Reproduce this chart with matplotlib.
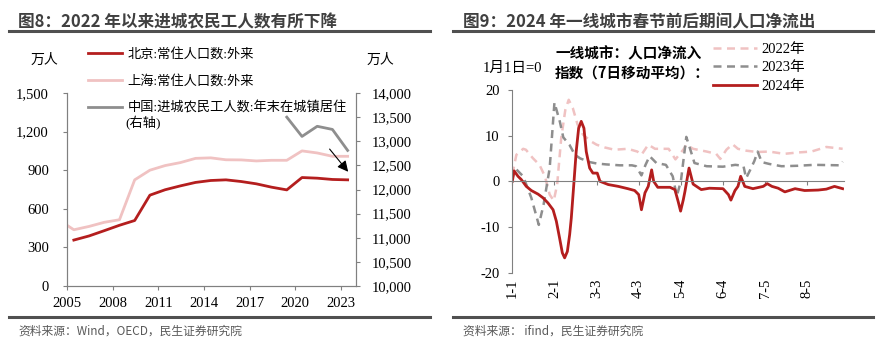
import numpy as np
import matplotlib
matplotlib.use('Agg')
import matplotlib.pyplot as plt
from matplotlib.lines import Line2D
from matplotlib.ticker import FuncFormatter

SERIF = ['Liberation Serif', 'Noto Sans CJK SC']
SANS = ['Noto Sans CJK SC', 'DejaVu Sans']
plt.rcParams['font.family'] = SERIF
plt.rcParams['axes.unicode_minus'] = False

# ---------------- 图8 data (万人)
sh_years = list(range(2004, 2024))
shanghai = [515, 437, 463, 495, 515, 825, 900, 936, 959, 992, 996, 981, 980, 972, 977, 977,
            1050, 1034, 1008, 1008]
bj_years = list(range(2005, 2024))
beijing = [357, 389, 430, 472, 509, 706, 748, 778, 805, 820, 825, 812, 794, 768, 747,
           843, 838, 828, 825]
cn_years = [2019, 2020, 2021, 2022, 2023]
china = [13500, 13100, 13310, 13245, 12810]
year_ticks = [2005, 2008, 2011, 2014, 2017, 2020, 2023]

# ---------------- 图9 data (days since 1-1, index value)
d2022 = [0, 3, 8, 10, 15, 20, 24, 27.5, 30.5, 33, 36, 39, 41.5, 44.5, 48, 52, 58, 62, 68, 75,
         85, 92, 95, 100, 105, 115, 120, 126, 128, 133, 143, 150, 153, 157.5, 162, 166, 172,
         180, 189, 200, 210, 220, 231, 243]
v2022 = [1.5, 5.8, 7.1, 6.9, 5.1, 3.6, 1.1, -2.9, -4.2, -0.7, 9.5, 15.6, 17.8, 16.0, 12.4, 10.2,
         8.7, 8.0, 7.4, 6.9, 7.1, 6.5, 5.8, 8.0, 7.1, 7.1, 4.8, 7.0, 8.0, 7.1, 6.5, 6.0, 4.9,
         6.9, 8.1, 7.1, 6.7, 6.4, 6.5, 6.0, 6.3, 6.5, 7.5, 7.1]
d2023 = [0, 2, 8, 14, 19.5, 23, 27.5, 31, 35, 37.5, 42, 46, 50, 57, 62, 69, 79, 88, 91, 95, 98,
         101, 106, 113, 118, 121, 124, 128, 131, 134, 143, 155, 164, 170, 172, 175, 178,
         180.5, 183.5, 189, 198, 210, 222, 241, 243]
v2023 = [0.5, 2.9, 1.1, -3.6, -9.5, -5.1, 2.9, 17.2, 13.0, 9.6, 8.0, 5.8, 5.0, 4.2, 3.9, 3.7,
         3.5, 3.5, 3.3, 1.3, 3.6, 5.5, 4.0, 3.6, 1.1, -3.2, 0.0, 9.7, 6.9, 4.0, 3.3, 3.2, 3.6,
         3.4, 0.7, 2.5, 4.4, 6.5, 4.2, 3.8, 3.3, 3.4, 3.6, 3.5, 4.3]
d2024 = [0, 1.3, 4.2, 6.6, 10.3, 14, 19, 22.6, 26.2, 30, 32.4, 34.8, 36.8, 38.5, 40.5, 42.2,
         43.4, 45.4, 47, 48.8, 50.7, 52.7, 54.4, 56.9, 59.3, 62.5, 64.5, 70.6, 78, 85, 90, 93,
         95, 97.6, 100, 102.5, 104, 107, 116, 119.6, 122, 123.8, 125.8, 127, 130, 133, 139,
         145, 155, 159, 160.8, 163.8, 166, 168, 171, 177, 184.6, 187.5, 191, 195.6, 200.5,
         208, 215, 225, 231, 237, 243]
v2024 = [0.0, 2.3, 1.1, 0.4, -1.1, -2.0, -2.8, -3.6, -4.7, -6.2, -8.7, -12.4, -15.6, -16.7,
         -15.3, -11.6, -8.0, 0.0, 6.5, 11.6, 13.1, 11.6, 6.5, 2.9, 1.8, 1.8, 0.0, -0.7, -1.1,
         -1.6, -2.0, -2.9, -6.2, -2.5, -1.1, 2.5, 0.0, -1.3, -1.3, -1.8, -4.4, -6.5, -4.0,
         -2.2, 2.9, -0.6, -1.8, -1.5, -1.6, -2.9, -4.1, -2.0, -1.1, 1.1, -1.1, -1.6, -1.1,
         -0.5, -1.1, -1.5, -2.3, -1.6, -2.0, -1.9, -1.7, -1.1, -1.6]
day_ticks = [0, 31, 62, 93, 124, 155, 186, 217]
day_labels = ['1-1', '2-1', '3-3', '4-3', '5-4', '6-4', '7-5', '8-5']

RED = '#B41E1E'
PINK = '#F0C2C2'
GREY = '#8E8E8E'
AXC = '#808080'
W, H = 880, 346

fig = plt.figure(figsize=(8.8, 3.46), dpi=100)


def fx(px):
    return px / W


def fy(py):
    return 1 - py / H


# titles, rules and sources
fig.text(fx(18), fy(22), '图8：2022 年以来进城农民工人数有所下降', family=SANS,
         fontsize=12, weight='bold', color='#404040', va='center')
fig.text(fx(463), fy(22), '图9：2024 年一线城市春节前后期间人口净流出', family=SANS,
         fontsize=12, weight='bold', color='#404040', va='center')
for x0, x1 in [(9, 430), (453, 873)]:
    for yy in (31, 317):
        fig.add_artist(Line2D([fx(x0), fx(x1)], [fy(yy)] * 2, transform=fig.transFigure,
                              color='#505050', lw=2.2))
fig.text(fx(18), fy(331), '资料来源：Wind，OECD，民生证券研究院', family=SANS,
         fontsize=8.5, color='#595959', va='center')
fig.text(fx(463), fy(331), '资料来源： ifind，民生证券研究院', family=SANS,
         fontsize=8.5, color='#595959', va='center')

# ---------------- left chart
ax = fig.add_axes([fx(67), fy(286), fx(356 - 67), (286 - 93) / H])
ax2 = ax.twinx()
off = 0.45
l_bj, = ax.plot(np.array(bj_years) + off, beijing, color=RED, lw=2.0)
l_sh, = ax.plot(np.array(sh_years) + off, shanghai, color=PINK, lw=2.0)
l_cn, = ax2.plot(np.array(cn_years) + off, china, color=GREY, lw=2.0)
ax.set_zorder(ax2.get_zorder() + 1)
ax.patch.set_visible(False)

ax.set_xlim(2005, 2024)
ax.set_ylim(0, 1500)
ax.set_yticks(range(0, 1501, 300))
ax2.set_ylim(10000, 14000)
ax2.set_yticks(range(10000, 14001, 500))
ax.set_xticks(year_ticks)
comma = FuncFormatter(lambda v, p: f'{int(v):,}')
ax.yaxis.set_major_formatter(comma)
ax2.yaxis.set_major_formatter(comma)
for a in (ax, ax2):
    for s in a.spines.values():
        s.set_color(AXC)
    a.spines['top'].set_visible(False)
    a.tick_params(colors=AXC, labelcolor='black', labelsize=10.5, length=3, width=0.8)
ax.tick_params(axis='y', pad=10)
ax2.tick_params(axis='y', pad=8)
ax.tick_params(axis='x', pad=5)

fig.text(fx(44), fy(60), '万人', fontsize=10, ha='center', va='center')
fig.text(fx(380), fy(60), '万人', fontsize=10, ha='center', va='center')

fig.legend([l_bj, l_sh, l_cn], ['北京:常住人口数:外来', '上海:常住人口数:外来',
                                 '中国:进城农民工人数:年末在城镇居住'],
           loc='upper left', bbox_to_anchor=(fx(88), fy(48)), frameon=False,
           fontsize=9.5, handlelength=2.6, handletextpad=0.4, labelspacing=1.06,
           borderpad=0, borderaxespad=0)
fig.text(fx(125), fy(123), '(右轴)', fontsize=9.5, va='center')

ax.annotate('', xy=(2023.6, 871), xytext=(2022.15, 1081),
            arrowprops=dict(arrowstyle='-|>', color='black', lw=0.8, mutation_scale=16))

# ---------------- right chart
bx = fig.add_axes([fx(512.3), fy(273), fx(844 - 512.3), (273 - 89.7) / H])
p22, = bx.plot(d2022, v2022, color=PINK, lw=1.8, ls=(0, (3.2, 2.2)))
p23, = bx.plot(d2023, v2023, color=GREY, lw=1.8, ls=(0, (3.2, 2.2)))
p24, = bx.plot(d2024, v2024, color=RED, lw=2.0)
bx.set_xlim(0, 244)
bx.set_ylim(-20, 20)
bx.set_yticks([-20, -10, 0, 10, 20])
bx.spines['top'].set_visible(False)
bx.spines['right'].set_visible(False)
bx.spines['left'].set_color(AXC)
bx.spines['bottom'].set_color(AXC)
bx.spines['bottom'].set_position(('data', 0))
bx.set_xticks(day_ticks)
bx.tick_params(axis='x', labelbottom=False, colors=AXC, length=3, width=0.8)
bx.tick_params(axis='y', colors=AXC, labelcolor='black', labelsize=10.5, length=3,
               width=0.8, pad=6)
sec = bx.secondary_xaxis('bottom')
sec.set_xticks(day_ticks, day_labels, rotation=90)
sec.spines['bottom'].set_visible(False)
sec.tick_params(length=0, pad=4, labelsize=10.5)

fig.text(fx(512), fy(68), '1月1日=0', fontsize=10.5, ha='center', va='center')
fig.text(fx(555), fy(63), '一线城市：人口净流入\n指数（7日移动平均）：', family=SANS,
         fontsize=10.5, weight='bold', va='center', linespacing=1.25)
fig.legend([p22, p23, p24], ['2022年', '2023年', '2024年'], loc='upper left',
           bbox_to_anchor=(fx(713), fy(42.5)), frameon=False, fontsize=10.5,
           handlelength=3.0, handletextpad=0.3, labelspacing=0.36, borderpad=0,
           borderaxespad=0)

fig.savefig('out.png', dpi=100)
